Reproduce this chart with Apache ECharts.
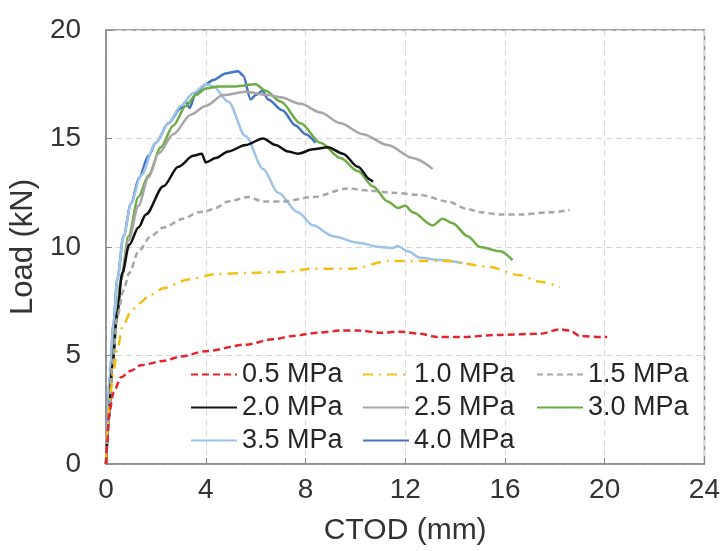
<!DOCTYPE html>
<html>
<head>
<meta charset="utf-8">
<script src="https://cdn.jsdelivr.net/npm/echarts@6/dist/echarts.min.js"></script>
<style>
    html, body { margin: 0; padding: 0; background: #fff; }
    #chart { width: 723px; height: 551px; }
</style>
</head>
<body>
<div id="chart"></div>
<script>
    // CTOD (mm) vs load (kN)
    const xTicks = [0, 4, 8, 12, 16, 20, 24]
    const yTicks = [0, 5, 10, 15, 20]

    const p05 = [[0, 0], [0.05, 1], [0.13, 2.4], [0.3, 3.3], [0.6, 4.0], [1.0, 4.3], [1.4, 4.55], [2.3, 4.75], [3.0, 4.95], [4.0, 5.2], [5.6, 5.5], [6.7, 5.75], [7.5, 5.9], [8.5, 6.05], [9.4, 6.15], [10.1, 6.15], [11.0, 6.05], [11.8, 6.1], [12.6, 6.0], [13.3, 5.85], [14.2, 5.85], [15.8, 5.95], [17.4, 6.0], [18.2, 6.2], [18.6, 6.15], [19.0, 5.9], [19.9, 5.85], [20.1, 5.85]]
    const p10 = [[0, 0], [0.05, 1.5], [0.15, 3], [0.3, 4.3], [0.45, 5.3], [0.68, 6.4], [1.0, 7.0], [1.3, 7.4], [1.8, 7.8], [2.3, 8.1], [3.3, 8.5], [4.4, 8.75], [5.6, 8.8], [7.1, 8.85], [8.3, 9.0], [9.9, 9.0], [11.3, 9.35], [12.6, 9.35], [13.7, 9.35], [15.3, 9.1], [16.6, 8.7], [17.4, 8.4], [18.2, 8.15]]
    const p15 = [[0, 0], [0.1, 2], [0.25, 4.5], [0.45, 6.8], [0.7, 8.0], [0.93, 8.8], [1.3, 9.8], [1.8, 10.5], [2.3, 10.9], [3.1, 11.3], [3.7, 11.6], [4.0, 11.65], [4.4, 11.8], [4.9, 12.1], [5.7, 12.3], [6.3, 12.1], [7.1, 12.1], [8.3, 12.3], [9.7, 12.7], [10.5, 12.6], [11.5, 12.5], [12.6, 12.4], [13.7, 12.1], [14.5, 11.75], [15.0, 11.6], [15.8, 11.5], [16.7, 11.5], [17.8, 11.6], [18.6, 11.7]]
    const p20 = [[0, 0], [0.1, 2], [0.25, 4.5], [0.45, 7], [0.65, 8.8], [0.93, 10.1], [1.3, 10.9], [1.6, 11.5], [2.3, 12.8], [2.9, 13.7], [3.5, 14.2], [3.84, 14.3], [4.0, 13.9], [4.4, 14.1], [4.9, 14.4], [5.6, 14.7], [6.3, 15.0], [6.8, 14.7], [7.3, 14.4], [7.7, 14.3], [8.3, 14.5], [8.9, 14.6], [9.5, 14.3], [10.1, 13.7], [10.6, 13.1], [10.7, 13.0]]
    const p25 = [[0, 0], [0.1, 2], [0.25, 4.5], [0.4, 6.5], [0.6, 8.5], [0.9, 10.3], [1.3, 11.9], [1.7, 13.2], [2.1, 14.3], [2.7, 15.2], [3.4, 16.1], [4.0, 16.5], [4.7, 17.0], [5.6, 17.15], [6.5, 17.0], [7.0, 16.9], [7.8, 16.6], [8.6, 16.2], [9.4, 15.7], [10.3, 15.2], [11.3, 14.7], [12.3, 14.1], [13.1, 13.6]]
    const p30 = [[0, 0], [0.1, 2], [0.25, 4.5], [0.4, 6.5], [0.6, 8.5], [0.9, 10.5], [1.3, 12.3], [1.7, 13.3], [2.2, 14.6], [2.7, 15.6], [3.2, 16.5], [3.6, 17.0], [4.0, 17.3], [4.5, 17.4], [5.2, 17.4], [6.0, 17.5], [6.4, 17.2], [7.0, 16.7], [7.8, 15.7], [8.6, 14.8], [9.4, 14.1], [10.1, 13.5], [10.7, 12.8], [11.3, 12.1], [11.7, 11.8], [12.0, 11.9], [12.3, 11.6], [13.1, 11.0], [13.5, 11.3], [13.9, 11.1], [14.5, 10.5], [15.0, 10.0], [15.8, 9.8], [16.3, 9.4]]
    const p35 = [[0, 0], [0.05, 2], [0.15, 4], [0.3, 6.5], [0.45, 8.5], [0.7, 10.5], [1.0, 12], [1.4, 13.3], [2.0, 14.8], [2.5, 15.7], [3.0, 16.5], [3.5, 17.1], [4.0, 17.5], [4.3, 17.4], [4.9, 16.7], [5.6, 15.1], [6.3, 13.6], [6.9, 12.5], [7.7, 11.6], [8.3, 11.0], [9.1, 10.5], [10.1, 10.2], [11.0, 10.0], [11.5, 9.95], [11.7, 10.05], [12.1, 9.8], [12.6, 9.5], [13.4, 9.4], [14.3, 9.25]]
    const p40 = [[0, 0], [0.05, 2], [0.15, 4], [0.3, 6.5], [0.45, 8.5], [0.7, 10.5], [1.0, 12], [1.33, 13.2], [1.7, 14.2], [2.0, 14.8], [2.5, 15.7], [3.0, 16.4], [3.2, 16.7], [3.35, 16.4], [3.6, 17.1], [4.0, 17.5], [4.3, 17.7], [4.8, 18.0], [5.3, 18.1], [5.5, 17.9], [5.8, 16.8], [6.0, 17.0], [6.27, 17.2], [6.5, 16.8], [7.07, 16.3], [7.6, 15.6], [8.0, 15.2], [8.4, 14.8]]

    const names = ['0.5 MPa', '1.0 MPa', '1.5 MPa', '2.0 MPa', '2.5 MPa', '3.0 MPa', '3.5 MPa', '4.0 MPa']
    const curves = [p05, p10, p15, p20, p25, p30, p35, p40]
    const colors = ['#e3262e', '#f2c014', '#a6a6a6', '#111111', '#a6a6a6', '#6fac45', '#9dc3e6', '#4472c4']
    const dashes = [[7, 4], [10, 6, 2, 6], [6, 4], 'solid', 'solid', 'solid', 'solid', 'solid']

    const font = 'Liberation Sans, Arial, sans-serif'
    const chart = echarts.init(document.getElementById('chart'))

    const series = curves.map(function(c, i) {
        return {
            type: 'line',
            name: names[i],
            data: c,
            symbol: 'none',
            smooth: 0.3,
            smoothMonotone: 'x',
            z: 10 - i,
            lineStyle: {
                color: colors[i],
                width: 2.5,
                type: dashes[i]
            },
            itemStyle: { color: colors[i] }
        }
    })

    // one legend per column, the picture has a 3-column grid
    function legendCol(left, items) {
        return {
            orient: 'vertical',
            left: left,
            top: 361,
            padding: 0,
            data: items,
            itemWidth: 46,
            itemHeight: 14,
            itemGap: 6,
            itemStyle: { opacity: 0 },
            textStyle: { fontFamily: font, fontSize: 27, color: '#262626' }
        }
    }

    const option = {
        animation: false,
        backgroundColor: '#fff',
        grid: {
            left: 105,
            right: 18,
            top: 30,
            bottom: 86,
            show: true,
            borderColor: '#8a8a8a',
            borderWidth: 1.5
        },
        legend: [
            legendCol(190, ['0.5 MPa', '2.0 MPa', '3.5 MPa']),
            legendCol(362, ['1.0 MPa', '2.5 MPa', '4.0 MPa']),
            legendCol(536, ['1.5 MPa', '3.0 MPa'])
        ],
        xAxis: {
            type: 'value',
            min: xTicks[0],
            max: xTicks[xTicks.length - 1],
            interval: 4,
            name: 'CTOD (mm)',
            nameLocation: 'middle',
            nameGap: 52,
            nameTextStyle: { fontFamily: font, fontSize: 30, color: '#333' },
            axisLine: { lineStyle: { color: '#8a8a8a', width: 1.5 } },
            axisTick: { show: true, inside: true, length: 6, lineStyle: { color: '#8a8a8a' } },
            axisLabel: { fontFamily: font, fontSize: 28, color: '#333', margin: 12 },
            splitLine: { lineStyle: { color: '#d6d6d6', type: [6, 4] } }
        },
        yAxis: {
            type: 'value',
            min: yTicks[0],
            max: yTicks[yTicks.length - 1],
            interval: 5,
            name: 'Load (kN)',
            nameLocation: 'middle',
            nameGap: 57,
            nameTextStyle: { fontFamily: font, fontSize: 31, color: '#333' },
            axisLine: { show: true, lineStyle: { color: '#8a8a8a', width: 1.5 } },
            axisTick: { show: true, inside: true, length: 6, lineStyle: { color: '#8a8a8a' } },
            axisLabel: { fontFamily: font, fontSize: 28, color: '#333', margin: 25 },
            splitLine: { lineStyle: { color: '#d6d6d6', type: [6, 4] } }
        },
        series: series
    }
    chart.setOption(option)
</script>
</body>
</html>
